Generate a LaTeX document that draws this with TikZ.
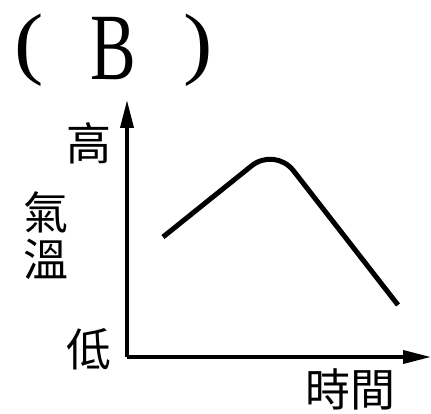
\documentclass[tikz,border=0pt]{standalone}
\usepackage{fontspec}
\setmainfont{Liberation Serif}
\newfontfamily\cjk{Noto Sans CJK TC}
\usetikzlibrary{arrows.meta}
\tikzset{
  axis/.style={line width=3.6pt,-{Triangle[length=28pt,width=13pt]}},
  curve/.style={line width=5pt,rounded corners=30pt},
  cjklabel/.style={font=\cjk\fontsize{45}{45}\selectfont,inner sep=0pt,anchor=center},
  bigletter/.style={font=\fontsize{95}{95}\selectfont,inner sep=0pt,anchor=center,xscale=0.72,transform shape},
  paren/.style={font=\fontsize{80}{80}\selectfont,inner sep=0pt,anchor=center,xscale=1.1,transform shape}
}
\begin{document}
\begin{tikzpicture}[x=1pt,y=-1pt]
\useasboundingbox (0,0) rectangle (431,414);
\node[paren] (lp) at (29,50) {(};
\node[bigletter] (ans) at (113,49) {B};
\node[paren] (rp) at (198,50) {)};
\coordinate (o) at (127,357);
\coordinate (ytip) at (127,100);
\coordinate (xtip) at (431,357);
\draw[axis] (o) -- (ytip);
\draw[axis] (o) -- (xtip);
\coordinate (c0) at (163,237);
\coordinate (cp) at (275,147);
\coordinate (c1) at (398,305);
\draw[curve] (c0) -- (cp) -- (c1);
\node[cjklabel] (hi) at (89,143) {高};
\node[cjklabel] (q1) at (46,212) {氣};
\node[cjklabel] (q2) at (46,259) {溫};
\node[cjklabel] (lo) at (89,349) {低};
\node[cjklabel] (time) at (350,389) {時間};
\end{tikzpicture}
\end{document}
